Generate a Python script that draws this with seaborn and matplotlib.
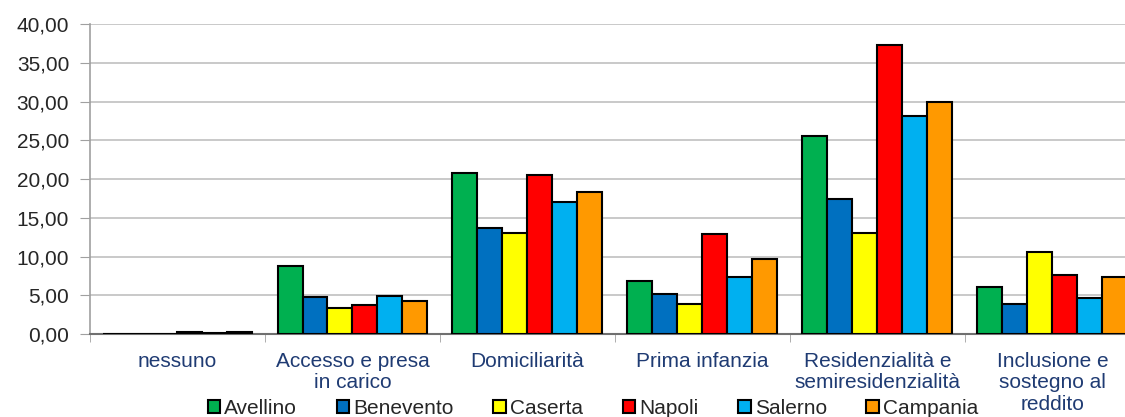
import matplotlib
matplotlib.use('Agg')
import matplotlib.pyplot as plt
from matplotlib.ticker import FixedLocator, FuncFormatter
import seaborn as sns
import pandas as pd

# categories and series
categories = ['nessuno', 'Accesso e presa\nin carico', 'Domiciliarità', 'Prima infanzia',
              'Residenzialità e\nsemiresidenzialità', 'Inclusione e\nsostegno al\nreddito']
provinces = ['Avellino', 'Benevento', 'Caserta', 'Napoli', 'Salerno', 'Campania']
avellino = [0.00, 8.8, 20.8, 6.9, 25.6, 6.1]
benevento = [0.00, 4.8, 13.7, 5.2, 17.4, 3.9]
caserta = [0.05, 3.3, 13.1, 3.9, 13.0, 10.6]
napoli = [0.25, 3.7, 20.5, 12.9, 37.3, 7.6]
salerno = [0.08, 4.9, 17.1, 7.4, 28.1, 4.6]
campania = [0.20, 4.2, 18.3, 9.7, 30.0, 7.3]
colors = ['#00B050', '#0070C0', '#FFFF00', '#FF0000', '#00B0F0', '#FF9900']

series = [avellino, benevento, caserta, napoli, salerno, campania]
rows = []
for prov, vals in zip(provinces, series):
    for cat, v in zip(categories, vals):
        rows.append({'cat': cat, 'prov': prov, 'val': v})
df = pd.DataFrame(rows)

sns.set_style('white')
plt.rcParams['font.family'] = ['Liberation Sans', 'DejaVu Sans']

fig = plt.figure(figsize=(11.25, 4.17), dpi=100)
# the plot area runs past the right edge of the picture, as in the original
ax = fig.add_axes([0.08, 0.199, 0.9333, 0.743])

sns.barplot(data=df, x='cat', y='val', hue='prov', order=categories, hue_order=provinces,
            palette=colors, width=0.857, gap=0, edgecolor='black', linewidth=1.5,
            saturation=1, errorbar=None, ax=ax, zorder=3)

ax.set_ylim(0, 40)
ax.set_xlim(-0.5, 5.5)
ax.set_yticks(range(0, 41, 5))
ax.yaxis.set_major_formatter(FuncFormatter(lambda v, p: f'{v:.2f}'.replace('.', ',')))
ax.yaxis.grid(True, color='#C0C0C0', linewidth=1.2, zorder=0)
ax.set_axisbelow(True)
ax.tick_params(axis='y', labelsize=15, length=7, color='#A0A0A0', direction='out', left=True, pad=8)
ax.tick_params(axis='x', which='major', length=0, labelsize=15, labelcolor='#1F3B73', pad=13)
for t in ax.get_xticklabels():
    t.set_linespacing(1.15)
    t.set_multialignment('center')
ax.xaxis.set_minor_locator(FixedLocator([i + 0.5 for i in range(-1, 6)]))
ax.tick_params(axis='x', which='minor', length=6, color='#A0A0A0', direction='out', bottom=True)
ax.set_xlabel('')
ax.set_ylabel('')

for s in ['top', 'right']:
    ax.spines[s].set_visible(False)
ax.spines['left'].set_color('#A0A0A0')
ax.spines['left'].set_linewidth(1.2)
ax.spines['bottom'].set_color('#707070')
ax.spines['bottom'].set_linewidth(1.5)

handles, labels = ax.get_legend_handles_labels()
ax.legend(handles, labels, loc='lower center', bbox_to_anchor=(0.479, -0.305), ncol=6,
          frameon=False, fontsize=15, handlelength=0.6, handleheight=0.6,
          handletextpad=0.2, columnspacing=1.9, borderpad=0)

fig.savefig('out.png', dpi=100)
